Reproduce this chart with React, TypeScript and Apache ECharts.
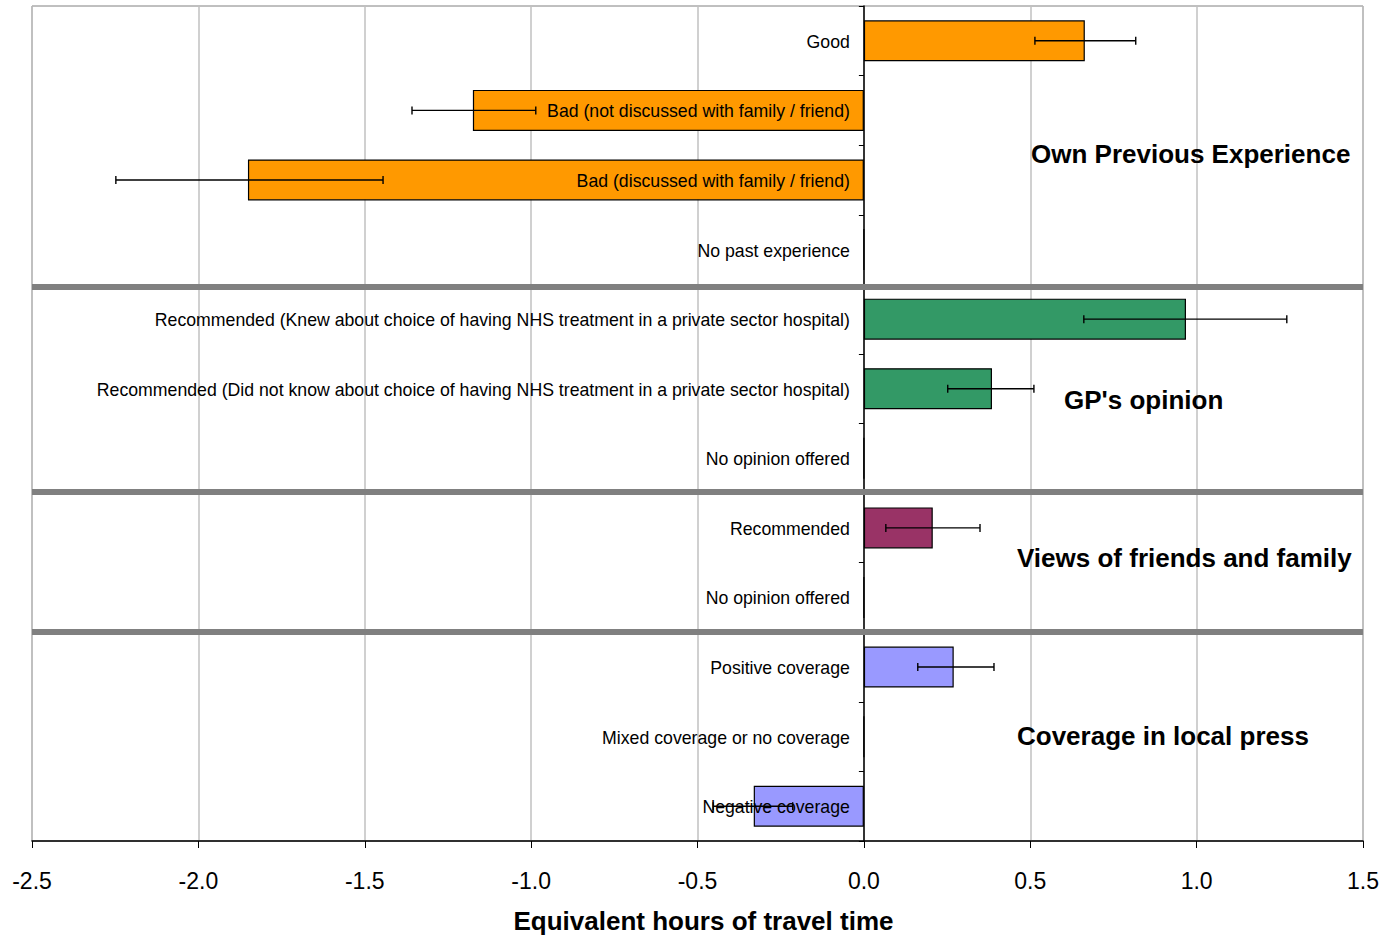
import React, { useEffect, useRef } from "react";
import * as echarts from "echarts";

// Attribute levels, top to bottom
const categories = [
  "Good",
  "Bad (not discussed with family / friend)",
  "Bad (discussed with family / friend)",
  "No past experience",
  "Recommended (Knew about choice of having NHS treatment in a private sector hospital)",
  "Recommended (Did not know about choice of having NHS treatment in a private sector hospital)",
  "No opinion offered",
  "Recommended",
  "No opinion offered",
  "Positive coverage",
  "Mixed coverage or no coverage",
  "Negative coverage",
];

// Equivalent hours of travel time for each level
const values = [0.664, -1.175, -1.851, 0, 0.968, 0.385, 0, 0.207, 0, 0.27, 0, -0.331];

// Confidence interval bounds (null where the level is the reference)
const errLow = [0.514, -1.358, -2.248, null, 0.661, 0.252, null, 0.066, null, 0.162, null, -0.453];
const errHigh = [0.817, -0.986, -1.445, null, 1.271, 0.511, null, 0.349, null, 0.391, null, -0.214];

// Fill colour per attribute group
const groupColors = [
  "#FF9900", "#FF9900", "#FF9900", "#FF9900",
  "#339966", "#339966", "#339966",
  "#993366", "#993366",
  "#9999FF", "#9999FF", "#9999FF",
];

// Group headings
const sectionTitles = [
  "Own Previous Experience",
  "GP's opinion",
  "Views of friends and family",
  "Coverage in local press",
];

const xTicks = { min: -2.5, max: 1.5, interval: 0.5 };
const axisTitle = "Equivalent hours of travel time";

const FONT = "Arial, 'Liberation Sans', sans-serif";

export default function App() {
  const ref = useRef<HTMLDivElement>(null);

  useEffect(() => {
    if (!ref.current) return;
    const chart = echarts.init(ref.current, null, { renderer: "svg" });

    const errData = categories
      .map((_, i) => (errLow[i] == null ? null : [i, errLow[i], errHigh[i]]))
      .filter((d) => d != null);

    const labelData = categories.map((_, i) => [i, 0]);

    const gridLeft = 32;
    const gridRight = 1363;

    const titleLayout = [
      { x: 1031, y: 154 },
      { x: 1064, y: 400 },
      { x: 1017, y: 558 },
      { x: 1017, y: 736 },
    ];
    const separatorsY = [287, 492, 632];

    chart.setOption({
      animation: false,
      backgroundColor: "#ffffff",
      grid: {
        left: gridLeft,
        right: 1391 - gridRight,
        top: 6,
        bottom: 94,
        show: true,
        borderColor: "#808080",
        borderWidth: 1,
        containLabel: false,
        outerBoundsMode: "none",
      },
      xAxis: {
        type: "value",
        min: xTicks.min,
        max: xTicks.max,
        interval: xTicks.interval,
        axisLine: { show: true, onZero: false, lineStyle: { color: "#000", width: 1.5 } },
        axisTick: { show: true, length: 7, lineStyle: { color: "#000", width: 1 } },
        axisLabel: {
          color: "#000",
          fontSize: 23,
          fontFamily: FONT,
          margin: 28,
          formatter: (v: number) => v.toFixed(1),
        },
        splitLine: { show: true, lineStyle: { color: "#c0c0c0", width: 1.5 } },
        name: axisTitle,
        nameLocation: "middle",
        nameGap: 67,
        nameTextStyle: {
          color: "#000",
          fontSize: 26,
          fontWeight: "bold",
          fontFamily: FONT,
          padding: [0, 0, 0, 12],
        },
      },
      yAxis: {
        type: "category",
        data: categories,
        inverse: true,
        z: 2,
        axisLine: { show: true, onZero: true, lineStyle: { color: "#000", width: 1.5 } },
        axisTick: { show: true, length: 5, lineStyle: { color: "#000" } },
        axisLabel: { show: false },
        splitLine: { show: false },
      },
      series: [
        {
          type: "bar",
          z: 1,
          barWidth: 41,
          data: values.map((v, i) => ({
            value: v,
            itemStyle: { color: groupColors[i], borderColor: "#000", borderWidth: 1.2 },
          })),
        },
        {
          // category names, right-aligned against the zero line
          type: "custom",
          z: 3,
          silent: true,
          encode: { x: 1, y: 0 },
          data: labelData,
          renderItem: (params: any, api: any) => {
            const idx = api.value(0);
            const p = api.coord([0, idx]);
            return {
              type: "text",
              x: p[0] - 14,
              y: p[1] + 1,
              style: {
                text: categories[idx],
                fill: "#000",
                fontSize: 17.7,
                fontFamily: FONT,
                align: "right",
                verticalAlign: "middle",
              },
            };
          },
        },
        {
          // confidence interval whiskers
          type: "custom",
          z: 4,
          encode: { x: [1, 2], y: 0 },
          data: errData,
          renderItem: (params: any, api: any) => {
            const idx = api.value(0);
            const lo = api.coord([api.value(1), idx]);
            const hi = api.coord([api.value(2), idx]);
            const cap = 4;
            const style = { stroke: "#000", lineWidth: 1.4 };
            return {
              type: "group",
              children: [
                { type: "line", shape: { x1: lo[0], y1: lo[1], x2: hi[0], y2: hi[1] }, style },
                { type: "line", shape: { x1: lo[0], y1: lo[1] - cap, x2: lo[0], y2: lo[1] + cap }, style },
                { type: "line", shape: { x1: hi[0], y1: hi[1] - cap, x2: hi[0], y2: hi[1] + cap }, style },
              ],
            };
          },
        },
      ],
      graphic: [
        ...separatorsY.map((y) => ({
          type: "rect",
          z: 5,
          shape: { x: gridLeft, y: y - 3, width: gridRight - gridLeft, height: 6 },
          style: { fill: "#808080" },
        })),
        ...sectionTitles.map((t, i) => ({
          type: "text",
          z: 6,
          x: titleLayout[i].x,
          y: titleLayout[i].y,
          style: {
            text: t,
            fill: "#000",
            fontSize: 26,
            fontWeight: "bold",
            fontFamily: FONT,
            verticalAlign: "middle",
          },
        })),
      ],
    });

    return () => chart.dispose();
  }, []);

  return (
    <div
      ref={ref}
      style={{ position: "fixed", left: 0, top: 0, width: 1391, height: 935, background: "#fff" }}
    />
  );
}
